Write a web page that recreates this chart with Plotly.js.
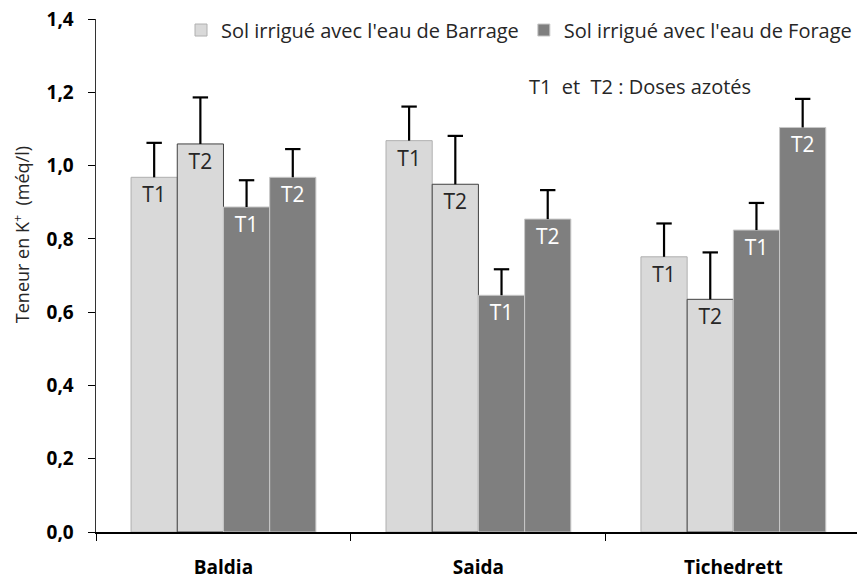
<!DOCTYPE html>
<html>
<head>
<meta charset="utf-8">
<script src="https://cdn.plot.ly/plotly-3.0.1.min.js"></script>
<style>html,body{margin:0;padding:0;background:#fff;}#chart{width:857px;height:585px;}</style>
</head>
<body>
<div id="chart"></div>
<script>
const categories = ['Baldia', 'Saida', 'Tichedrett'];
const barrageT1 = [0.968, 1.068, 0.751];
const barrageT2 = [1.059, 0.949, 0.635];
const forageT1 = [0.887, 0.646, 0.824];
const forageT2 = [0.968, 0.854, 1.104];
const barrageT1Err = [0.094, 0.093, 0.091];
const barrageT2Err = [0.127, 0.132, 0.128];
const forageT1Err = [0.073, 0.071, 0.074];
const forageT2Err = [0.077, 0.079, 0.078];
const doseLabels = ['T1', 'T2'];
const seriesNames = ["Sol irrigué avec l'eau de Barrage", "Sol irrigué avec l'eau de Forage"];
const noteText = 'T1\u00a0\u00a0et\u00a0\u00a0T2 : Doses azotés';
const yTitle = 'Teneur en K<sup>+</sup>\u00a0\u00a0(méq/l)';

const FONT = 'Open Sans, sans-serif';
const light = '#d9d9d9', dark = '#7f7f7f';

function mkBar(y, err, label, color, lineColor, textColor, name, showleg, grp) {
  return {
    type: 'bar', x: categories, y: y, name: name, showlegend: showleg,
    legendgroup: name, offsetgroup: grp,
    marker: {color: color, line: {color: lineColor, width: 1}},
    text: categories.map(() => label), textposition: 'inside', insidetextanchor: 'end',
    textangle: 0,
    textfont: {family: FONT, size: 21, color: textColor},
    error_y: {type: 'data', symmetric: false, array: err, arrayminus: err.map(() => 0),
      color: '#000', thickness: 2.2, width: 0},
    hoverinfo: 'skip'
  };
}
function mkCap(y, err, grp) {
  return {
    type: 'scatter', mode: 'markers', orientation: 'v', offsetgroup: grp,
    x: categories, y: y.map((v, i) => v + err[i]), showlegend: false,
    marker: {symbol: 'line-ew', size: 11, color: '#000', line: {width: 2.2, color: '#000'}},
    hoverinfo: 'skip'
  };
}

const data = [
  mkBar(barrageT1, barrageT1Err, doseLabels[0], light, '#b0b0b0', '#262626', seriesNames[0], true, 'a'),
  mkBar(barrageT2, barrageT2Err, doseLabels[1], light, '#404040', '#262626', seriesNames[0], false, 'b'),
  mkBar(forageT1, forageT1Err, doseLabels[0], dark, '#c8c8c8', '#ffffff', seriesNames[1], true, 'c'),
  mkBar(forageT2, forageT2Err, doseLabels[1], dark, '#c8c8c8', '#ffffff', seriesNames[1], false, 'd'),
  mkCap(barrageT1, barrageT1Err, 'a'),
  mkCap(barrageT2, barrageT2Err, 'b'),
  mkCap(forageT1, forageT1Err, 'c'),
  mkCap(forageT2, forageT2Err, 'd')
];

const layout = {
  width: 857, height: 585,
  margin: {l: 96, r: 0, t: 19, b: 53},
  paper_bgcolor: '#fff', plot_bgcolor: '#fff',
  separators: ', ',
  barmode: 'group', bargap: 0.275, bargroupgap: 0,
  scattermode: 'group', scattergap: 0.275,
  font: {family: FONT, color: '#000'},
  showlegend: true,
  legend: {orientation: 'h', x: 1, xanchor: 'right', y: 0.9785, yanchor: 'middle',
    font: {family: FONT, size: 20, color: '#262626'}, traceorder: 'normal',
    itemwidth: 30, bgcolor: 'rgba(0,0,0,0)'},
  xaxis: {
    type: 'category', range: [-0.5, 2.485], tickson: 'boundaries',
    ticks: 'outside', ticklen: 7, tickcolor: '#000', tickwidth: 1,
    showline: true, linecolor: '#000', linewidth: 1.5,
    showgrid: false, zeroline: false, ticklabelstandoff: 18, automargin: false,
    tickfont: {family: FONT, size: 19, color: '#000', weight: 'bold'}
  },
  yaxis: {
    range: [0, 1.4], dtick: 0.2, tickformat: '.1f',
    ticks: 'outside', ticklen: 7, tickcolor: '#000', tickwidth: 1,
    showline: true, linecolor: '#333', linewidth: 1.5,
    showgrid: false, zeroline: false, ticklabelstandoff: 10, automargin: false,
    tickfont: {family: FONT, size: 19, color: '#000', weight: 'bold'}
  },
  annotations: [{
    text: noteText, xref: 'paper', yref: 'paper', x: 0.566, y: 0.869,
    xanchor: 'left', yanchor: 'middle', showarrow: false,
    font: {family: FONT, size: 20, color: '#262626'}
  }, {
    text: yTitle, xref: 'paper', yref: 'paper', x: -0.0972, y: 0.5787,
    xanchor: 'center', yanchor: 'middle', textangle: -90, showarrow: false,
    font: {family: FONT, size: 18, color: '#262626'}
  }]
};

Plotly.newPlot('chart', data, layout, {staticPlot: true, displayModeBar: false});
</script>
</body>
</html>
